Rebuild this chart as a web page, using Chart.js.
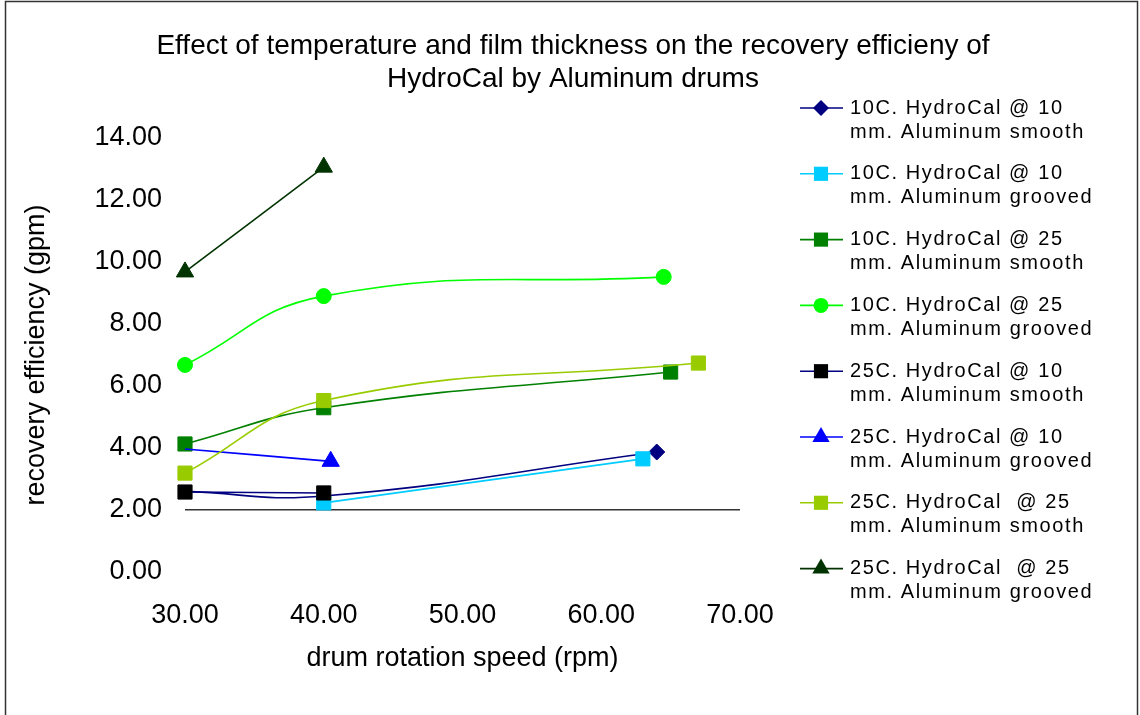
<!DOCTYPE html>
<html>
<head>
<meta charset="utf-8">
<script src="https://cdn.jsdelivr.net/npm/chart.js@4.4.0/dist/chart.umd.min.js"></script>
<style>
	html, body { margin: 0; padding: 0; background: #fff; }
	#wrap { width: 1140px; height: 715px; position: relative; }
</style>
</head>
<body>
<div id="wrap"><canvas id="recoveryChart" width="1140" height="715"></canvas></div>
<script>
// Data (x = drum rotation speed rpm, y = recovery efficiency gpm)
const speed_10C_10mm_smooth = [30, 40, 64];
const eff_10C_10mm_smooth = [2.60, 2.45, 3.87];
const speed_10C_10mm_grooved = [40, 63];
const eff_10C_10mm_grooved = [2.23, 3.65];
const speed_10C_25mm_smooth = [30, 40, 65];
const eff_10C_25mm_smooth = [4.13, 5.30, 6.45];
const speed_10C_25mm_grooved = [30, 40, 64.5];
const eff_10C_25mm_grooved = [6.68, 8.90, 9.52];
const speed_25C_10mm_smooth = [30, 40];
const eff_25C_10mm_smooth = [2.58, 2.55];
const speed_25C_10mm_grooved = [30, 40.5];
const eff_25C_10mm_grooved = [3.97, 3.57];
const speed_25C_25mm_smooth = [30, 40, 67];
const eff_25C_25mm_smooth = [3.19, 5.53, 6.74];
const speed_25C_25mm_grooved = [30, 40];
const eff_25C_25mm_grooved = [9.68, 13.06];

const seriesLegend = [
	['10C. HydroCal @ 10', 'mm. Aluminum smooth'],
	['10C. HydroCal @ 10', 'mm. Aluminum grooved'],
	['10C. HydroCal @ 25', 'mm. Aluminum smooth'],
	['10C. HydroCal @ 25', 'mm. Aluminum grooved'],
	['25C. HydroCal @ 10', 'mm. Aluminum smooth'],
	['25C. HydroCal @ 10', 'mm. Aluminum grooved'],
	['25C. HydroCal  @ 25', 'mm. Aluminum smooth'],
	['25C. HydroCal  @ 25', 'mm. Aluminum grooved']
];
const seriesX = [speed_10C_10mm_smooth, speed_10C_10mm_grooved, speed_10C_25mm_smooth, speed_10C_25mm_grooved,
	speed_25C_10mm_smooth, speed_25C_10mm_grooved, speed_25C_25mm_smooth, speed_25C_25mm_grooved];
const seriesY = [eff_10C_10mm_smooth, eff_10C_10mm_grooved, eff_10C_25mm_smooth, eff_10C_25mm_grooved,
	eff_25C_10mm_smooth, eff_25C_10mm_grooved, eff_25C_25mm_smooth, eff_25C_25mm_grooved];

const xTickValues = [30, 40, 50, 60, 70];
const yTickValues = [0, 2, 4, 6, 8, 10, 12, 14];
const chartTitle = ['Effect of temperature and film thickness on the recovery efficieny of', 'HydroCal by Aluminum drums'];

// look of each series
const styles = [
	{ line: '#000080', fill: '#000080', shape: 'rectRot', r: 8 },
	{ line: '#00CCFF', fill: '#00CCFF', shape: 'rect', r: 10 },
	{ line: '#008000', fill: '#008000', shape: 'rect', r: 10 },
	{ line: '#00FF00', fill: '#00FF00', shape: 'circle', r: 7.5 },
	{ line: '#000080', fill: '#000000', shape: 'rect', r: 10 },
	{ line: '#0000FF', fill: '#0000FF', shape: 'triangle', r: 10 },
	{ line: '#99CC00', fill: '#99CC00', shape: 'rect', r: 10 },
	{ line: '#003300', fill: '#003300', shape: 'triangle', r: 10 }
];
// markers that are hidden under other markers in the original
const hiddenPoints = { 0: [0, 1], 5: [0] };

const FONT = 'Arial, "Liberation Sans", sans-serif';

const datasets = seriesLegend.map((lines, i) => ({
	label: lines.join(' '),
	data: seriesX[i].map((x, j) => ({ x: x, y: seriesY[i][j] })),
	showLine: true,
	tension: 0.45,
	clip: false,
	borderColor: styles[i].line,
	borderWidth: 1.6,
	backgroundColor: styles[i].fill,
	pointBackgroundColor: styles[i].fill,
	pointBorderColor: styles[i].fill,
	pointBorderWidth: 1,
	pointStyle: styles[i].shape,
	pointRadius: seriesX[i].map((x, j) => (hiddenPoints[i] || []).includes(j) ? 0 : styles[i].r),
	order: 8 - i
}));

function drawMarker(ctx, shape, x, y, r) {
	ctx.beginPath();
	if (shape === 'rect') {
		const s = r * Math.SQRT1_2;
		ctx.rect(x - s, y - s, 2 * s, 2 * s);
	} else if (shape === 'rectRot') {
		ctx.moveTo(x, y - r); ctx.lineTo(x + r, y); ctx.lineTo(x, y + r); ctx.lineTo(x - r, y);
		ctx.closePath();
	} else if (shape === 'triangle') {
		ctx.moveTo(x, y - r);
		ctx.lineTo(x + r * Math.sin(Math.PI * 2 / 3), y - r * Math.cos(Math.PI * 2 / 3));
		ctx.lineTo(x + r * Math.sin(Math.PI * 4 / 3), y - r * Math.cos(Math.PI * 4 / 3));
		ctx.closePath();
	} else {
		ctx.arc(x, y, r, 0, Math.PI * 2);
	}
	ctx.fill();
}

const decorations = {
	id: 'decorations',
	beforeDraw(chart) {
		const ctx = chart.ctx;
		ctx.save();
		ctx.fillStyle = '#fff';
		ctx.fillRect(0, 0, chart.width, chart.height);
		ctx.restore();
	},
	afterDraw(chart) {
		const ctx = chart.ctx;
		ctx.save();
		// outer frame
		ctx.strokeStyle = '#333';
		ctx.lineWidth = 1.5;
		ctx.strokeRect(5.5, 1.5, 1132, 760);

		// title
		ctx.fillStyle = '#000';
		ctx.font = '28px ' + FONT;
		ctx.textAlign = 'center';
		ctx.textBaseline = 'middle';
		ctx.fillText(chartTitle[0], 573, 46);
		ctx.fillText(chartTitle[1], 573, 79);

		// legend
		ctx.textAlign = 'left';
		ctx.font = '20px ' + FONT;
		ctx.letterSpacing = '1.6px';
		seriesLegend.forEach((lines, i) => {
			const cy = 108 + i * 65.8;
			const st = styles[i];
			ctx.strokeStyle = st.line;
			ctx.lineWidth = 1.6;
			ctx.beginPath();
			ctx.moveTo(800, cy);
			ctx.lineTo(843, cy);
			ctx.stroke();
			ctx.fillStyle = st.fill;
			drawMarker(ctx, st.shape, 821, cy, st.r);
			ctx.fillStyle = '#000';
			ctx.fillText(lines[0], 850, cy);
			ctx.fillText(lines[1], 850, cy + 24);
		});
		ctx.restore();
	}
};

new Chart(document.getElementById('recoveryChart'), {
	type: 'scatter',
	data: { datasets: datasets },
	options: {
		responsive: false,
		animation: false,
		layout: { padding: { top: 138, right: 400, left: 0, bottom: 0 } },
		plugins: {
			legend: { display: false },
			title: { display: false },
			tooltip: { enabled: false }
		},
		scales: {
			x: {
				type: 'linear',
				min: 30,
				max: 70,
				afterFit: s => { s.height = 143; },
				afterBuildTicks: s => { s.ticks = xTickValues.map(v => ({ value: v })); },
				grid: { display: false, drawTicks: false },
				border: { display: false },
				ticks: {
					color: '#000',
					padding: 27,
					maxRotation: 0,
					font: { family: FONT, size: 27 },
					callback: v => v.toFixed(2)
				},
				title: {
					display: true,
					text: 'drum rotation speed (rpm)',
					color: '#000',
					font: { family: FONT, size: 27 },
					padding: { top: 0, bottom: 40 }
				}
			},
			y: {
				type: 'linear',
				min: 0,
				max: 14,
				afterFit: s => { s.width = 185; },
				afterBuildTicks: s => { s.ticks = yTickValues.map(v => ({ value: v })); },
				grid: {
					drawTicks: false,
					lineWidth: 1.5,
					color: c => (c.tick && c.tick.value === 2) ? '#333' : 'rgba(0,0,0,0)'
				},
				border: { display: false },
				ticks: {
					color: '#000',
					padding: 23,
					font: { family: FONT, size: 27 },
					callback: v => v.toFixed(2)
				},
				title: {
					display: true,
					text: 'recovery efficiency (gpm)',
					color: '#000',
					font: { family: FONT, size: 27 },
					padding: { top: 20, bottom: 0 }
				}
			}
		}
	},
	plugins: [decorations]
});
</script>
</body>
</html>
